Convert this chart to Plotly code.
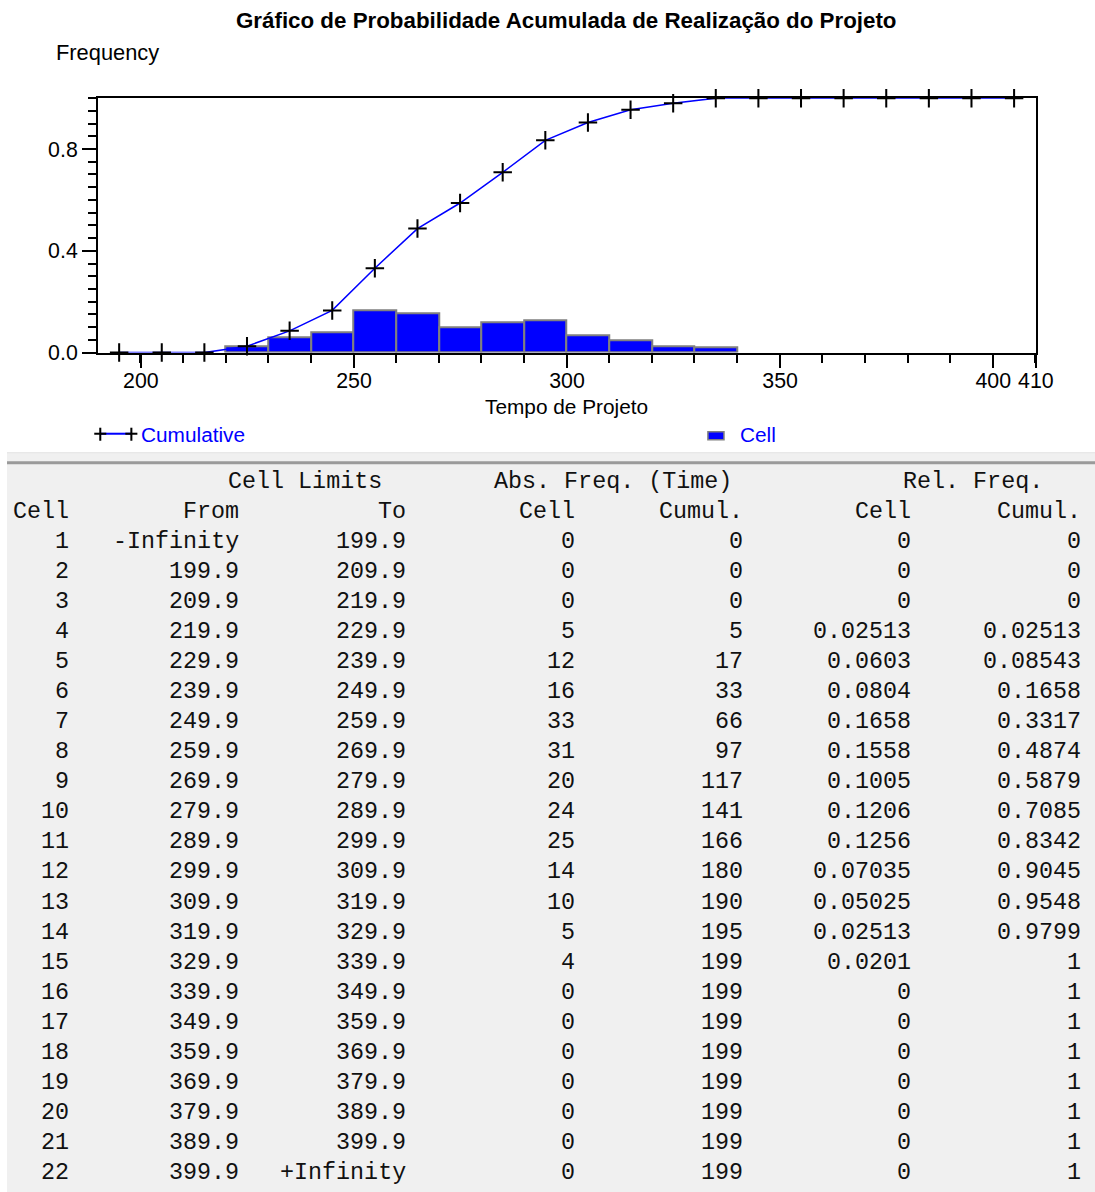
import plotly.graph_objects as go

# ---------------- data ----------------
cell_ids = list(range(1, 23))
lim_from = [float("-inf"), 199.9, 209.9, 219.9, 229.9, 239.9, 249.9, 259.9, 269.9, 279.9, 289.9,
            299.9, 309.9, 319.9, 329.9, 339.9, 349.9, 359.9, 369.9, 379.9, 389.9, 399.9]
lim_to = [199.9, 209.9, 219.9, 229.9, 239.9, 249.9, 259.9, 269.9, 279.9, 289.9, 299.9,
          309.9, 319.9, 329.9, 339.9, 349.9, 359.9, 369.9, 379.9, 389.9, 399.9, float("inf")]
abs_cell = [0, 0, 0, 5, 12, 16, 33, 31, 20, 24, 25, 14, 10, 5, 4, 0, 0, 0, 0, 0, 0, 0]
abs_cumul = [0, 0, 0, 5, 17, 33, 66, 97, 117, 141, 166, 180, 190, 195, 199, 199, 199, 199, 199, 199, 199, 199]
rel_cell = [0, 0, 0, 0.02513, 0.0603, 0.0804, 0.1658, 0.1558, 0.1005, 0.1206, 0.1256, 0.07035,
            0.05025, 0.02513, 0.0201, 0, 0, 0, 0, 0, 0, 0]
rel_cumul = [0, 0, 0, 0.02513, 0.08543, 0.1658, 0.3317, 0.4874, 0.5879, 0.7085, 0.8342, 0.9045,
             0.9548, 0.9799, 1, 1, 1, 1, 1, 1, 1, 1]

x_tickvals = [200, 250, 300, 350, 400, 410]
y_tickvals = [0, 0.4, 0.8]
y_ticktext = ["0.0", "0.4", "0.8"]

title_text = "Gráfico de Probabilidade Acumulada de Realização do Projeto"
y_label = "Frequency"
x_label = "Tempo de Projeto"
header1 = ["Cell Limits", "Abs. Freq. (Time)", "Rel. Freq."]
header2 = ["Cell", "From", "To", "Cell", "Cumul.", "Cell", "Cumul."]

# ---------------- layout helpers ----------------
SX, SY = 0.981, 0.988          # observed capture scale; compensate so the picture lands 1:1
SF = (SX * SY) ** 0.5
W, H = round(1095 / SX), round(1192 / SY)
def px(x):
    return x / 1095
def py(y):
    return 1 - y / 1192
def fs(v):
    return v / SF

BLUE = "#0000ff"
SANS = "Liberation Sans, Arial, sans-serif"
MONO = "Liberation Mono, Courier New, monospace"

cw = lim_to[1] - lim_from[1]
mids = []
for f, t in zip(lim_from, lim_to):
    if f == float("-inf"):
        mids.append(t - cw / 2)
    elif t == float("inf"):
        mids.append(f + cw / 2)
    else:
        mids.append((f + t) / 2)

bx = [m for m, v in zip(mids, rel_cell) if v > 0]
by = [v for v in rel_cell if v > 0]
bw = [t - f for f, t, v in zip(lim_from, lim_to, rel_cell) if v > 0]

fig = go.Figure()
fig.add_trace(go.Bar(x=bx, y=by, width=bw, marker=dict(color=BLUE, line=dict(color="#808080", width=fs(2))),
                     name="Cell", showlegend=False))
fig.add_trace(go.Scatter(x=mids, y=rel_cumul, mode="lines+markers", name="Cumulative",
                         line=dict(color=BLUE, width=fs(1.5)),
                         marker=dict(symbol="cross-thin", size=fs(13), line=dict(color="black", width=fs(2))),
                         cliponaxis=False, showlegend=False))

fig.update_layout(
    width=W, height=H, margin=dict(l=0, r=0, t=0, b=0),
    paper_bgcolor="white", plot_bgcolor="white",
    bargap=0,
    xaxis=dict(domain=[px(98), px(1033)], range=[190, 410], tickmode="array", tickvals=x_tickvals,
               ticks="outside", ticklen=fs(13), tickwidth=fs(2), tickcolor="black",
               showline=True, linecolor="black", linewidth=fs(2), mirror=True,
               showgrid=False, zeroline=False, ticklabelstandoff=-5,
               tickfont=dict(family=SANS, size=fs(21), color="black"),
               minor=dict(tickmode="linear", tick0=199.9, dtick=10, ticks="outside", ticklen=fs(8),
                          tickwidth=fs(2), tickcolor="black", showgrid=False)),
    yaxis=dict(domain=[py(352), py(98)], range=[0, 1], tickmode="array", tickvals=y_tickvals,
               ticktext=y_ticktext, ticks="outside", ticklen=fs(14), tickwidth=fs(2), tickcolor="black",
               showline=True, linecolor="black", linewidth=fs(2), mirror=True,
               showgrid=False, zeroline=False,
               tickfont=dict(family=SANS, size=fs(21), color="black"),
               minor=dict(tickmode="linear", tick0=0, dtick=0.05, ticks="outside", ticklen=fs(8),
                          tickwidth=fs(2), tickcolor="black", showgrid=False)),
)

ann = []
ann.append(dict(text="<b>" + title_text + "</b>", x=px(565), y=py(20), xref="paper", yref="paper",
                xanchor="center", yanchor="middle", showarrow=False,
                font=dict(family=SANS, size=fs(22), color="black")))
ann.append(dict(text=y_label, x=px(54), y=py(52), xref="paper", yref="paper",
                xanchor="left", yanchor="middle", showarrow=False,
                font=dict(family=SANS, size=fs(21.5), color="black")))
ann.append(dict(text=x_label, x=px(565), y=py(406), xref="paper", yref="paper",
                xanchor="center", yanchor="middle", showarrow=False,
                font=dict(family=SANS, size=fs(20.5), color="black")))
# legend texts
ann.append(dict(text="Cumulative", x=px(139), y=py(434), xref="paper", yref="paper",
                xanchor="left", yanchor="middle", showarrow=False,
                font=dict(family=SANS, size=fs(20.5), color=BLUE)))
ann.append(dict(text="Cell", x=px(736), y=py(434), xref="paper", yref="paper",
                xanchor="left", yanchor="middle", showarrow=False,
                font=dict(family=SANS, size=fs(20.5), color=BLUE)))

shapes = []
# legend symbols
shapes.append(dict(type="line", xref="paper", yref="paper", x0=px(100), x1=px(131), y0=py(433), y1=py(433),
                   line=dict(color=BLUE, width=fs(2))))
for cx in (100, 131):
    shapes.append(dict(type="line", xref="paper", yref="paper", x0=px(cx - 6), x1=px(cx + 6), y0=py(433), y1=py(433),
                       line=dict(color="black", width=fs(2))))
    shapes.append(dict(type="line", xref="paper", yref="paper", x0=px(cx), x1=px(cx), y0=py(427), y1=py(440),
                       line=dict(color="black", width=fs(2))))
shapes.append(dict(type="rect", xref="paper", yref="paper", x0=px(706), x1=px(722), y0=py(439), y1=py(431),
                   fillcolor=BLUE, line=dict(color="#808080", width=fs(1.5))))

# table background
shapes.append(dict(type="rect", xref="paper", yref="paper", x0=px(7), x1=1, y0=0, y1=py(452),
                   fillcolor="#f0f0f0", line=dict(width=0), layer="below"))
shapes.append(dict(type="line", xref="paper", yref="paper", x0=px(7), x1=1, y0=py(452), y1=py(452),
                   line=dict(color="#e2e2e2", width=fs(1))))
shapes.append(dict(type="line", xref="paper", yref="paper", x0=px(7), x1=1, y0=py(462), y1=py(462),
                   line=dict(color="#9a9a9a", width=fs(3))))

# table text
col_right = [71, 240, 407, 575, 743, 911, 1080]
h1_left = [225, 491, 899]
row0 = 541
row_step = 30

def tfont():
    return dict(family=MONO, size=fs(23), color="#111111")

for txt, xl in zip(header1, h1_left):
    ann.append(dict(text=txt, x=px(xl), y=py(481), xref="paper", yref="paper", xanchor="left",
                    yanchor="middle", showarrow=False, font=tfont()))
for txt, xr in zip(header2, col_right):
    ann.append(dict(text=txt, x=px(xr), y=py(511), xref="paper", yref="paper", xanchor="right",
                    yanchor="middle", showarrow=False, font=tfont()))

def fmt_lim(v):
    if v == float("-inf"):
        return "-Infinity"
    if v == float("inf"):
        return "+Infinity"
    return f"{v:.1f}"

for i in range(len(cell_ids)):
    vals = [str(cell_ids[i]), fmt_lim(lim_from[i]), fmt_lim(lim_to[i]), str(abs_cell[i]),
            str(abs_cumul[i]), f"{rel_cell[i]:g}", f"{rel_cumul[i]:g}"]
    yy = row0 + i * row_step
    for txt, xr in zip(vals, col_right):
        ann.append(dict(text=txt, x=px(xr), y=py(yy), xref="paper", yref="paper", xanchor="right",
                        yanchor="middle", showarrow=False, font=tfont()))

fig.update_layout(annotations=ann, shapes=shapes)
fig.write_html("out.html", config={"displayModeBar": False},
               post_script="document.body.style.margin='0';document.body.style.padding='0';")
